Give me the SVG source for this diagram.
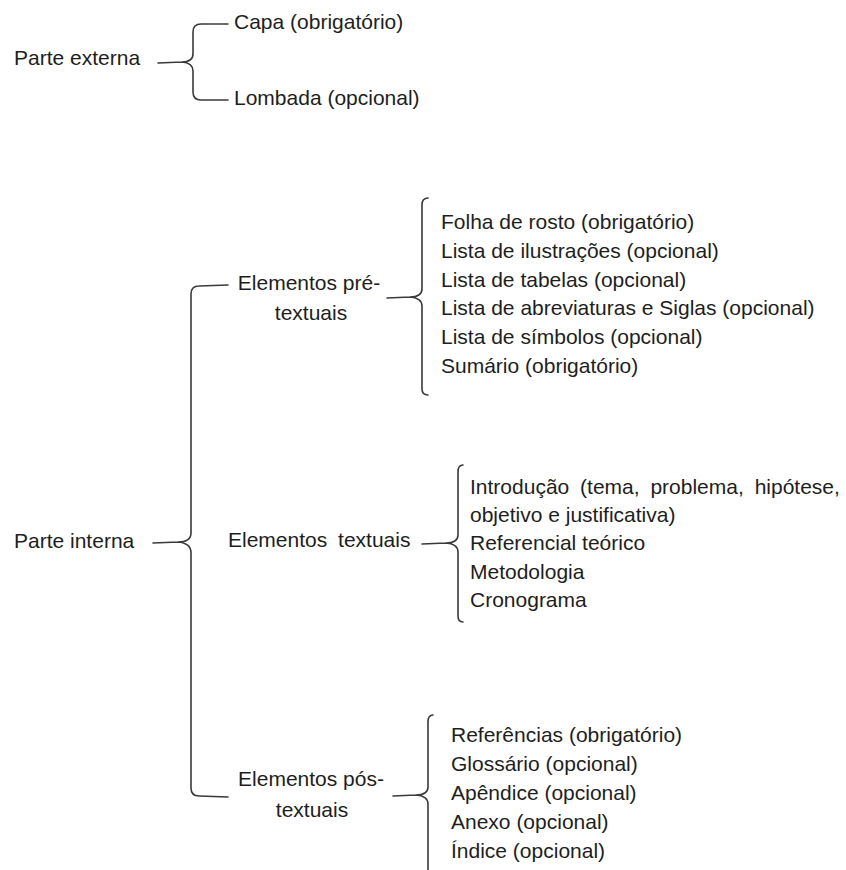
<svg xmlns="http://www.w3.org/2000/svg" width="846" height="870" viewBox="0 0 846 870">
<style>
text{font-family:"Liberation Sans",Arial,sans-serif;font-size:21px;fill:#1e1e1e}
.ws{word-spacing:5px}
.br{fill:none;stroke:#3a3a3a;stroke-width:1.6;stroke-linejoin:round;stroke-linecap:round}
</style>
<rect width="846" height="870" fill="#fff"/>
<g id="connectors">
<path class="br" d="M228,24 L201,24 Q193,24 193,32 L193,54 Q193,62 182,62 L158,63 M182,62 Q193,63 193,71 L193,92 Q193,100 201,100 L228,100"/>
<path class="br" d="M228,285 L199,286 Q191,286 191,294 L191,533 Q191,542 178,542 L153,543 M178,542 Q191,543 191,553 L191,788 Q191,796 199,796 L228,797"/>
<path class="br" d="M428,198 Q422,198 422,205 L422,289 Q422,297 410,297 L387,298 M410,297 Q422,298 422,306 L422,389 Q422,395 428,395"/>
<path class="br" d="M463,465 Q458,465 458,472 L458,535 Q458,543 446,543 L422,544 M446,543 Q458,544 458,552 L458,616 Q458,622 463,622"/>
<path class="br" d="M433,715 Q428,715 428,722 L428,787 Q428,795 416,795 L393,796 M416,795 Q428,796 428,804 L428,872"/>
</g>
<g id="parte-externa"><text x="14" y="65">Parte externa</text></g>
<g id="capa"><text x="234" y="29">Capa (obrigatório)</text></g>
<g id="lombada"><text x="234" y="105">Lombada (opcional)</text></g>
<g id="parte-interna"><text x="14" y="548">Parte interna</text></g>
<g id="pre-textuais"><text x="309" y="290" text-anchor="middle">Elementos pré-</text><text x="311" y="320" text-anchor="middle">textuais</text></g>
<g id="textuais"><text x="228" y="547" class="ws">Elementos textuais</text></g>
<g id="pos-textuais"><text x="311" y="786" text-anchor="middle">Elementos pós-</text><text x="312" y="817" text-anchor="middle">textuais</text></g>
<g id="lista-pre">
<text x="441" y="229">Folha de rosto (obrigatório)</text>
<text x="441" y="258">Lista de ilustrações (opcional)</text>
<text x="441" y="287">Lista de tabelas (opcional)</text>
<text x="441" y="315">Lista de abreviaturas e Siglas (opcional)</text>
<text x="441" y="344">Lista de símbolos (opcional)</text>
<text x="441" y="373">Sumário (obrigatório)</text>
</g>
<g id="lista-textuais">
<text x="470" y="494" class="ws">Introdução (tema, problema, hipótese,</text>
<text x="470" y="522">objetivo e justificativa)</text>
<text x="470" y="550">Referencial teórico</text>
<text x="470" y="579">Metodologia</text>
<text x="470" y="607">Cronograma</text>
</g>
<g id="lista-pos">
<text x="451" y="742">Referências (obrigatório)</text>
<text x="451" y="771">Glossário (opcional)</text>
<text x="451" y="800">Apêndice (opcional)</text>
<text x="451" y="829">Anexo (opcional)</text>
<text x="451" y="858">Índice (opcional)</text>
</g>
</svg>
